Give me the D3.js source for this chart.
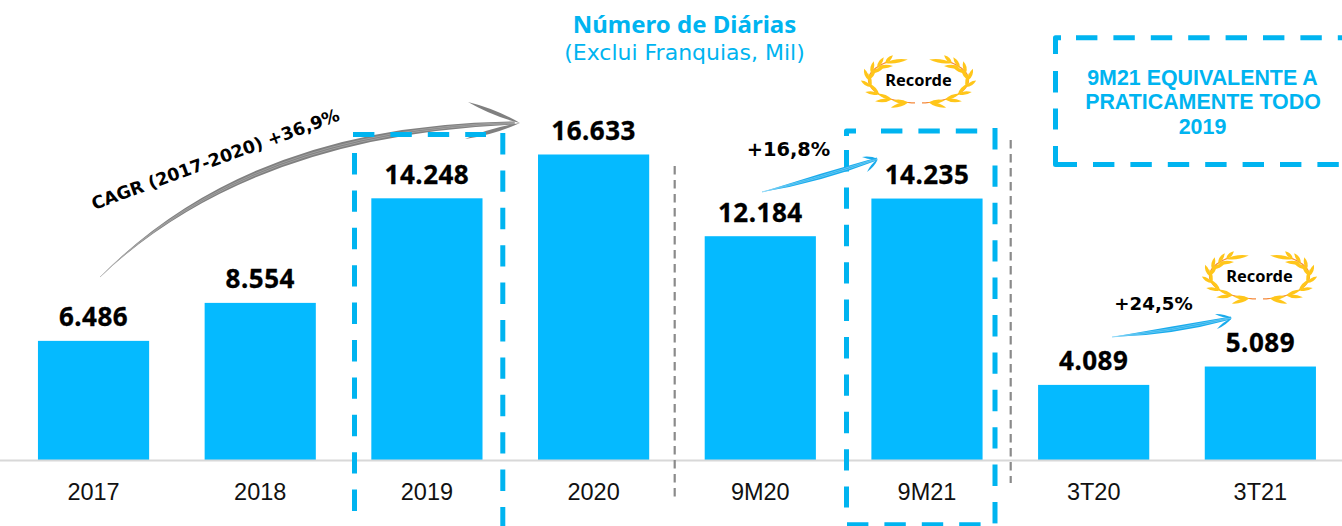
<!DOCTYPE html>
<html><head><meta charset="utf-8">
<script src="https://cdn.jsdelivr.net/npm/d3@7/dist/d3.min.js"></script>
<style>html,body{margin:0;padding:0;background:#fff;overflow:hidden}svg{display:block}</style>
</head><body><svg id="c" width="1342" height="526"></svg>
<script>
const categories = ["2017","2018","2019","2020","9M20","9M21","3T20","3T21"];
const values = [6486,8554,14248,16633,12184,14235,4089,5089];
const valueLabels = ["6.486","8.554","14.248","16.633","12.184","14.235","4.089","5.089"];
const BLUE="#05BAFF", DASH="#00B4F0", TXT="#00B4F0";
const svg=d3.select("#c");
const x=d3.scaleBand().domain(categories).range([10.2,1343.7]).paddingInner(0.333).paddingOuter(0.1665);
const y=d3.scaleLinear().domain([0,16633]).range([460,154.5]);

// bars
svg.selectAll("rect.bar").data(categories).join("rect").attr("class","bar")
 .attr("x",d=>x(d)).attr("width",x.bandwidth())
 .attr("y",(d,i)=>y(values[i])).attr("height",(d,i)=>460-y(values[i])).attr("fill",BLUE);

// axis
const axis=d3.axisBottom(x).tickSize(0).tickPadding(23);
const ag=svg.append("g").attr("transform","translate(0,460)").call(axis);
ag.select(".domain").remove();
ag.selectAll("text").attr("font-family","'Liberation Sans'").attr("font-size",23.5).attr("fill","#111");
svg.append("line").attr("x1",0).attr("x2",1342).attr("y1",460.5).attr("y2",460.5).attr("stroke","#d8d8d8").attr("stroke-width",2);

// value labels
svg.selectAll("text.val").data(categories).join("text").attr("class","val")
 .attr("x",d=>x(d)+x.bandwidth()/2).attr("y",(d,i)=>y(values[i])-14.6)
 .attr("text-anchor","middle").attr("font-family","'Noto Sans'").attr("font-weight","bold")
 .attr("font-size",26).attr("letter-spacing",0.5).attr("stroke","#000").attr("stroke-width",0.3).attr("fill","#000").text((d,i)=>valueLabels[i]);

// separators
[[674.7,166,497],[1010.7,140,483]].forEach(([sx,top,bot])=>svg.append("line").attr("x1",sx).attr("x2",sx).attr("y1",top).attr("y2",bot)
 .attr("stroke","#8a8a8a").attr("stroke-width",2.2).attr("stroke-dasharray","8.5 5.5"));

// brush arrows: tapered shaft plus filled chevron head
function brushArrow(x0,y0,cx,cy,x1,y1,top,bot,color,light,w,ew,bw){
 const g=svg.append("g");
 const ex=x1-(x1-cx)*0.02, ey=y1;
 g.append("path").attr("d",`M${x0},${y0}Q${cx},${cy-w} ${ex},${ey-ew}L${ex},${ey+ew}Q${cx},${cy+w} ${x0},${y0}Z`).attr("fill",color);
 g.append("path").attr("d",`M${x0},${y0}Q${cx},${cy-w*.25} ${ex},${ey-ew*.3}`).attr("fill","none").attr("stroke",light).attr("stroke-width",.6);
 g.append("path").attr("d",`M${x0},${y0}Q${cx},${cy+w*.3} ${ex},${ey+ew*.3}`).attr("fill","none").attr("stroke",light).attr("stroke-width",.6);
 [top,bot].forEach(h=>{
  const mx=(h[0]+x1)/2,my=(h[1]+y1)/2;
  const dx=x1-h[0],dy=y1-h[1],l=Math.hypot(dx,dy),nx=-dy/l*bw,ny=dx/l*bw;
  g.append("path").attr("d",`M${h[0]},${h[1]}Q${mx+nx},${my+ny} ${x1},${y1}Q${mx-nx},${my-ny} ${h[0]},${h[1]}Z`).attr("fill",color);
 });
}
brushArrow(100,277,250,130,520,123,[468,102],[465,139],"#808080","#b5b5b5",6,1.6,4);

// dashed boxes
const seg=(pts,solid)=>svg.append("path").attr("d",d3.line()(pts)).attr("fill","none").attr("stroke",DASH)
 .attr("stroke-width",5).attr("stroke-linejoin","round").attr("stroke-dasharray",solid?null:"21.4 16");
// 2019 box
seg([[353,134.5],[486,134.5]]);
seg([[354.5,153],[354.5,511]]);
seg([[502.8,133],[502.8,526]]);
// 9M21 box
seg([[846.5,136],[846.5,131],[856,131]],true);
seg([[881,131],[978,131]]);
seg([[846.5,150],[846.5,507.5]]);
seg([[995,128],[995,524]]);
seg([[847,524.8],[981,524.8]]);
// callout box
seg([[1055.5,54],[1055.5,37.7],[1061,37.7]],true);
seg([[1076,37.7],[1342,37.7]]);
seg([[1055.5,71],[1055.5,129.5]]);
seg([[1055.5,146],[1055.5,164.5],[1077,164.5]],true);
seg([[1093,164.5],[1342,164.5]]);

brushArrow(762,192,820,178,878,159,[862,157],[867,172],"#19ABEC","#8fd8f7",4.5,1.4,2.4);
brushArrow(1112,337,1172,331,1232,318,[1215,314],[1217,329],"#19ABEC","#8fd8f7",4.5,1.4,2.4);

// titles
svg.append("text").attr("x",684.5).attr("y",33).attr("text-anchor","middle").attr("font-family","'Noto Sans'").attr("font-weight","bold")
 .attr("font-size",24).attr("fill",TXT).text("Número de Diárias");
svg.append("text").attr("x",684.5).attr("y",60).attr("text-anchor","middle").attr("font-family","'DejaVu Sans'")
 .attr("font-size",22).attr("fill",TXT).text("(Exclui Franquias, Mil)");

// callout text
svg.append("text").attr("text-anchor","middle").attr("font-family","'Liberation Sans'").attr("font-weight","bold").attr("font-size",21.4).attr("fill",TXT)
 .selectAll("tspan").data([["9M21 EQUIVALENTE A",1202.5,85],["PRATICAMENTE TODO",1203,108.5],["2019",1202.5,134]]).join("tspan")
 .attr("x",d=>d[1]).attr("y",d=>d[2]).text(d=>d[0]);

// arrow labels
const lab=(t,px,py,fs,rot)=>svg.append("text").attr("transform",`translate(${px},${py}) rotate(${rot||0})`).attr("text-anchor","middle")
 .attr("font-family","'DejaVu Sans'").attr("font-weight","bold").attr("font-size",fs).attr("fill","#000").text(t);
lab("CAGR (2017-2020) +36,9%",217.5,165,17.5,-20);
lab("+16,8%",788.5,156,19.4);
lab("+24,5%",1153.5,310,18.2);

// laurels
function laurel(cx,cy){
 const g=svg.append("g").attr("transform",`translate(${cx},${cy})`);
 const rx=50, ry=23;
 const pt=a=>[rx*Math.sin(a*Math.PI/180),-ry*Math.cos(a*Math.PI/180)];
 const leaf=(len,w)=>`M0,0Q${len*.45},${-w} ${len},0Q${len*.45},${w} 0,0Z`;
 [1,-1].forEach(side=>{
  const b=g.append("g").attr("transform",`scale(${side},1)`);
  b.append("path").attr("d",d3.line()(d3.range(176,36,-2).map(pt))).attr("fill","none").attr("stroke","#F58A3C").attr("stroke-width",1.2);
  [[168,18,16,-8],[148,17,16,-4],[128,14,15,6],[108,12,14,16],[90,12,14,24],[72,12,14,22],[56,12,16,20],[42,11,23,4]].forEach(([a,lo,li,ai])=>{
   const p=pt(a), t=Math.atan2(-ry*Math.sin(a*Math.PI/180),-rx*Math.cos(a*Math.PI/180))*180/Math.PI;
   b.append("path").attr("d",leaf(lo,3.6)).attr("fill","#FFC61A").attr("transform",`translate(${p[0]},${p[1]}) rotate(${t+22})`);
   b.append("path").attr("d",leaf(li,3.6)).attr("fill","#FFC61A").attr("transform",`translate(${p[0]},${p[1]}) rotate(${t-ai-10})`);
  });
 });
 g.append("text").attr("text-anchor","middle").attr("y",6).attr("font-family","'Noto Sans'").attr("font-weight","bold").attr("font-size",16.4).attr("fill","#000").text("Recorde");
}
laurel(918.5,80);
laurel(1259.5,276);
</script></body></html>
